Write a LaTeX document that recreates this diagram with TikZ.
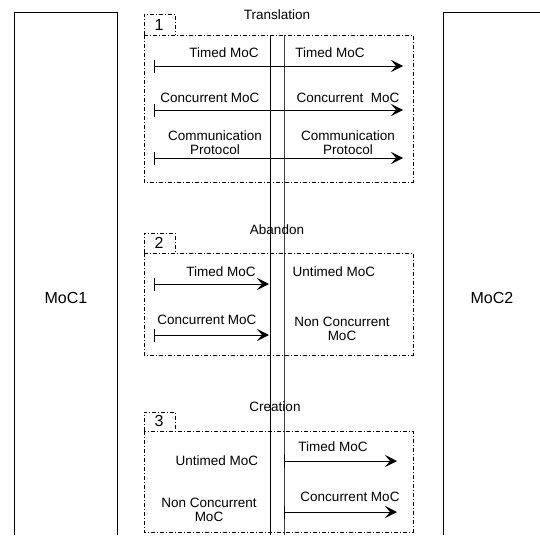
\documentclass[tikz,border=0pt]{standalone}
\usepackage{fontspec}
\setmainfont{Liberation Sans}
\usetikzlibrary{arrows.meta}

\tikzset{
  frame/.style={draw, line width=.8pt, dash pattern=on 4pt off 2pt on 1pt off 2pt},
  model/.style={line width=.9pt},
  lifeline/.style={line width=1pt},
  flow/.style={line width=1pt, {Bar[width=13pt]}-{Stealth[length=12pt,width=12pt,inset=5pt]}},
  lbl/.style={font=\fontsize{13.5}{14}\selectfont, align=center, inner sep=0pt},
  biglbl/.style={font=\fontsize{16}{18}\selectfont, inner sep=0pt},
}

\begin{document}
\begin{tikzpicture}[x=1pt, y=-1pt]
\useasboundingbox (0,0) rectangle (540,535);

% the two models
\draw [model] (14,535) -- (14,12) -- (117,12) -- (117,535);
\draw [model] (540,12) -- (443,12) -- (443,535);
\node [biglbl] (moc1) at (66,298) {MoC1};
\node [biglbl] (moc2) at (492,298) {MoC2};

% the border between them
\coordinate (lineLtop) at (270,35);
\coordinate (lineLbot) at (270,535);
\coordinate (lineRtop) at (284,35);
\coordinate (lineRbot) at (284,535);
\draw [lifeline] (lineLtop) -- (lineLbot);
\draw [lifeline, black!75] (lineRtop) -- (lineRbot);

% 1: translation
\draw [frame] (144,35) rectangle (413,182);
\draw [frame] (144,35) -- (144,14) -- (175,14) -- (175,35);
\node [biglbl] (num1) at (159,25) {1};
\node [lbl] (trans) at (277,15) {Translation};

\coordinate (t1s) at (154,66);  \coordinate (t1e) at (403,66);
\coordinate (t2s) at (154,110); \coordinate (t2e) at (403,110);
\coordinate (t3s) at (154,158); \coordinate (t3e) at (403,158);
\draw [flow] (t1s) -- (t1e);
\draw [flow] (t2s) -- (t2e);
\draw [flow] (t3s) -- (t3e);

\node [lbl] (t1a) at (224,53) {Timed MoC};
\node [lbl] (t1b) at (330,53) {Timed MoC};
\node [lbl] (t2a) at (210,98) {Concurrent MoC};
\node [lbl] (t2b) at (348,98) {Concurrent\ \ MoC};
\node [lbl] (t3a) at (215,143) {Communication\\Protocol};
\node [lbl] (t3b) at (348,143) {Communication\\Protocol};

% 2: abandon
\draw [frame] (144,253) rectangle (413,355);
\draw [frame] (144,253) -- (144,233) -- (175,233) -- (175,253);
\node [biglbl] (num2) at (159,243) {2};
\node [lbl] (aban) at (277,230) {Abandon};

\coordinate (a1s) at (154,284); \coordinate (a1e) at (269,284);
\coordinate (a2s) at (154,335); \coordinate (a2e) at (269,335);
\draw [flow] (a1s) -- (a1e);
\draw [flow] (a2s) -- (a2e);

\node [lbl] (a1a) at (221,272) {Timed MoC};
\node [lbl] (a1b) at (334,272) {Untimed MoC};
\node [lbl] (a2a) at (207,320) {Concurrent MoC};
\node [lbl] (a2b) at (342,329) {Non Concurrent\\MoC};

% 3: creation
\draw [frame] (144,431) rectangle (413,532);
\draw [frame] (144,431) -- (144,412) -- (175,412) -- (175,431);
\node [biglbl] (num3) at (159,421) {3};
\node [lbl] (crea) at (275,407) {Creation};

\coordinate (c1s) at (284,461); \coordinate (c1e) at (397,461);
\coordinate (c2s) at (284,512); \coordinate (c2e) at (397,512);
\draw [flow] (c1s) -- (c1e);
\draw [flow] (c2s) -- (c2e);

\node [lbl] (c1a) at (217,461) {Untimed MoC};
\node [lbl] (c1b) at (333,447) {Timed MoC};
\node [lbl] (c2a) at (209,510) {Non Concurrent\\MoC};
\node [lbl] (c2b) at (350,497) {Concurrent MoC};
\end{tikzpicture}
\end{document}
